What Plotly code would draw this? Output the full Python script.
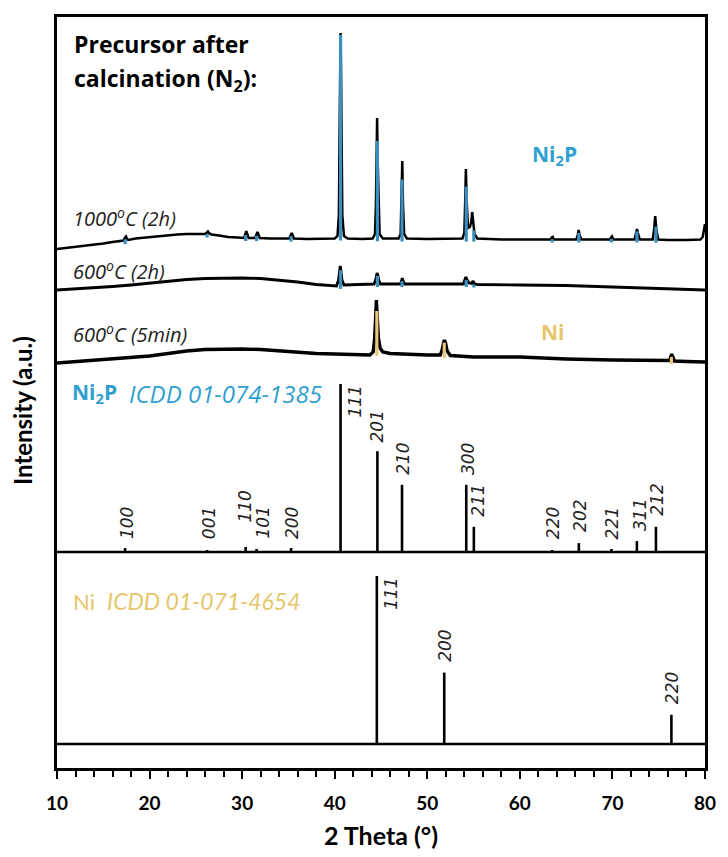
import numpy as np
import plotly.graph_objects as go

# ---------------- data ----------------
# Measured patterns (2 theta in degrees, intensity in a.u., already stacked)
T1000_X = [10.0, 11.0, 12.0, 13.0, 14.0, 15.0, 16.0, 17.0, 17.2, 17.35, 17.45, 17.55, 17.7, 18.5,
           20.0, 21.0, 22.0, 23.0, 24.0, 25.0, 26.0, 26.2, 26.3, 26.45, 26.7, 27.5, 28.5, 29.5,
           30.2, 30.35, 30.45, 30.55, 30.7, 31.4, 31.55, 31.65, 31.75, 31.9, 33.0, 34.0, 35.1,
           35.25, 35.35, 35.45, 35.6, 37.0, 39.0, 40.0, 40.3, 40.45, 40.52, 40.58, 40.63, 40.68,
           40.74, 40.82, 41.0, 41.4, 43.0, 44.1, 44.35, 44.45, 44.52, 44.58, 44.64, 44.72, 44.85,
           45.2, 46.9, 47.12, 47.22, 47.3, 47.38, 47.5, 47.8, 50.0, 53.8, 54.0, 54.1, 54.17, 54.25,
           54.4, 54.6, 54.75, 54.85, 54.95, 55.1, 55.4, 58.0, 61.0, 63.3, 63.45, 63.55, 63.65,
           66.1, 66.25, 66.35, 66.45, 66.65, 69.7, 69.85, 69.95, 70.1, 72.4, 72.55, 72.65, 72.75,
           72.95, 74.35, 74.5, 74.62, 74.75, 74.95, 76.0, 78.0, 79.5, 79.75, 79.9, 80.0]
T1000_Y = [519, 520, 521, 522, 523, 524.5, 526, 527, 527.5, 530.5, 531.5, 529.5, 528, 529.5,
           531, 532, 533, 533.5, 534, 534, 534, 535.5, 536.5, 534.5, 533.5, 532.5, 531, 530.5,
           530, 534, 537, 534, 530, 530, 534, 536, 534, 530, 529.5, 529.5, 529.5,
           533, 535, 533, 529.5, 529, 529, 529.5, 532, 553, 628, 698, 735, 698,
           628, 553, 532, 529.5, 529, 529.5, 534, 563, 608, 650, 608, 563, 534,
           529.5, 529.5, 534, 563, 607, 563, 534, 529.5, 529, 529.5, 535, 568, 599, 568,
           540, 541, 546, 556, 546, 534, 529.5, 528.5, 528.5, 528.5, 530.5, 531, 528.5,
           528.5, 533, 538, 533, 528.5, 528.5, 531, 531.5, 528.5, 528.5, 535, 539, 535,
           528.5, 528.5, 538, 552, 538, 528.5, 528, 528, 528.5, 531, 538, 544]

T600H_X = [10, 12, 14, 16, 18, 20, 22, 24, 26, 28, 30, 32, 34, 36, 38, 40.2, 40.42, 40.52, 40.6,
           40.68, 40.78, 41.0, 42.0, 44.25, 44.42, 44.52, 44.58, 44.65, 44.75, 44.95, 47.1, 47.22,
           47.3, 47.38, 47.55, 53.9, 54.05, 54.17, 54.3, 54.5, 54.8, 54.95, 55.1, 55.4, 60, 65,
           70, 75, 80]
T600H_Y = [478, 479, 480, 481.5, 483, 485, 487, 488.5, 489.5, 490, 490, 489.5, 488, 486, 483.5,
           482, 488, 496, 502, 496, 488, 483, 483.5, 484, 488, 493, 495, 493, 488, 484, 484, 487,
           490, 487, 484, 484, 488, 491, 488, 485, 484.5, 487, 484, 483.5, 483, 482.5, 481,
           479.5, 478]

T600M_X = [10, 12, 14, 16, 18, 20, 22, 24, 26, 28, 30, 32, 34, 36, 38, 40, 42, 43.8, 44.15, 44.3,
           44.42, 44.5, 44.6, 44.72, 44.9, 45.2, 46, 48, 50, 51.4, 51.6, 51.75, 51.85, 51.97,
           52.15, 52.5, 55, 60, 65, 70, 75, 76.15, 76.3, 76.4, 76.52, 76.7, 78, 80]
T600M_Y = [405, 406.5, 408, 409.5, 410.5, 412, 414.5, 417, 418.5, 419, 419, 418.5, 417, 415.5,
           414.5, 414, 413.5, 413, 416, 428, 450, 468, 450, 430, 420, 416, 414.5, 413.5, 413,
           413, 418, 425, 428, 425, 417, 412.5, 411, 411, 409, 408, 407.5, 407.5, 411, 414,
           411, 407, 406.5, 406]

# Reference patterns (relative intensity, %)
NI2P_HKL = ["100", "001", "110", "101", "200", "111", "201", "210", "300", "211",
            "220", "202", "221", "311", "212"]
NI2P_POS = [17.36, 26.22, 30.38, 31.56, 35.29, 40.63, 44.61, 47.27, 54.21, 55.03,
            63.49, 66.37, 69.89, 72.64, 74.70]
NI2P_INT = [2.4, 1.2, 3.0, 1.8, 2.4, 100, 60, 40, 40, 15, 1.2, 5.3, 1.8, 6.5, 15]

NI_HKL = ["111", "200", "220"]
NI_POS = [44.55, 51.83, 76.37]
NI_INT = [100, 42.5, 17.4]

# peaks coloured in each measured pattern
T1000_PEAKS = NI2P_POS
T600H_PEAKS = [40.63, 44.61, 47.27, 54.21, 55.03]
T600M_PEAKS = NI_POS

# ---------------- style ----------------
BLUE = "#2f9fd0"
BLUE_FILL = "#3b8fc0"
GOLD = "#e6c66a"
GOLD_FILL = "#e8c878"
NI2P_BASE = 216
NI_BASE = 24
STICK_SCALE = 1.68
# label offsets in px: (xshift, gap above stick top; None = beside the stick, top-aligned)
NI2P_LBL = {"100": (2, 8), "001": (2, 10), "110": (-1, 23), "101": (6, 9), "200": (1, 8),
            "111": (14, None), "201": (0, 8), "210": (1, 9), "300": (2, 9), "211": (4, 9),
            "220": (1, 10), "202": (1, 10), "221": (1, 9), "311": (3, 9), "212": (1, 10)}
NI_LBL = {"111": (14, None), "200": (0, 10), "220": (0, 10)}

fig = go.Figure()


def peak_marks(xs, ys, peaks, color):
    px, py = [], []
    for p in peaks:
        top = float(np.interp(p, xs, ys))
        base = min(float(np.interp(p - 0.5, xs, ys)), float(np.interp(p + 0.5, xs, ys)))
        px += [p, p, None]
        py += [base - 3, max(top - 2, base), None]
    return go.Scatter(x=px, y=py, mode="lines", line=dict(color=color, width=3.2),
                      hoverinfo="skip", showlegend=False)


for xs, ys, peaks, col, w in [(T1000_X, T1000_Y, T1000_PEAKS, BLUE_FILL, 2.5),
                              (T600H_X, T600H_Y, T600H_PEAKS, BLUE_FILL, 2.9),
                              (T600M_X, T600M_Y, T600M_PEAKS, GOLD_FILL, 3.4)]:
    fig.add_trace(go.Scatter(x=xs, y=ys, mode="lines", line=dict(color="black", width=w),
                             showlegend=False))
    fig.add_trace(peak_marks(xs, ys, peaks, col))


def sticks(pos, inten, base):
    sx, sy = [], []
    for p, v in zip(pos, inten):
        sx += [p, p, None]
        sy += [base, base + v * STICK_SCALE, None]
    return go.Scatter(x=sx, y=sy, mode="lines", line=dict(color="black", width=2.6),
                      showlegend=False)


fig.add_trace(sticks(NI2P_POS, NI2P_INT, NI2P_BASE))
fig.add_trace(sticks(NI_POS, NI_INT, NI_BASE))

lblfont = dict(family="DejaVu Sans", size=17, color="#222222", style="italic")


def stick_labels(hkls, pos, inten, base, offs):
    for h, p, v in zip(hkls, pos, inten):
        xs, gap = offs[h]
        top = base + v * STICK_SCALE
        if gap is None:
            fig.add_annotation(x=p, y=top, text=h, textangle=-90, showarrow=False,
                               xanchor="center", yanchor="top", xshift=xs, yshift=-1,
                               font=lblfont, borderpad=0)
        else:
            fig.add_annotation(x=p, y=top, text=h, textangle=-90, showarrow=False,
                               xanchor="center", yanchor="bottom", xshift=xs, yshift=gap,
                               font=lblfont, borderpad=0)


stick_labels(NI2P_HKL, NI2P_POS, NI2P_INT, NI2P_BASE, NI2P_LBL)
stick_labels(NI_HKL, NI_POS, NI_INT, NI_BASE, NI_LBL)

# panel divider lines
for yv in [NI2P_BASE, NI_BASE]:
    fig.add_shape(type="line", xref="paper", x0=0, x1=1, y0=yv, y1=yv,
                  line=dict(color="black", width=2.6))

# texts
hfont = dict(family="Open Sans", size=23, color="black", weight="bold")
fig.add_annotation(x=11.6, y=724, text="Precursor after", showarrow=False,
                   xanchor="left", yanchor="middle", font=hfont)
fig.add_annotation(x=11.6, y=689, text="calcination (N<sub>2</sub>):", showarrow=False,
                   xanchor="left", yanchor="middle", font=hfont)

tfont = dict(family="Open Sans", size=20, color="#222222", style="italic")
for ty, txt in [(551, "1000<sup>o</sup>C (2h)"), (498, "600<sup>o</sup>C (2h)"),
                (435, "600<sup>o</sup>C (5min)")]:
    fig.add_annotation(x=11.5, y=ty, text=txt, showarrow=False, xanchor="left",
                       yanchor="middle", font=tfont)

fig.add_annotation(x=63.78, y=613, text="Ni<sub>2</sub>P", showarrow=False,
                   font=dict(family="Open Sans", size=21, color=BLUE, weight="bold"))
fig.add_annotation(x=63.57, y=436, text="Ni", showarrow=False,
                   font=dict(family="Open Sans", size=21, color=GOLD, weight="bold"))

fig.add_annotation(x=11.39, y=375, text="Ni<sub>2</sub>P", showarrow=False, xanchor="left",
                   font=dict(family="Open Sans", size=21, color=BLUE, weight="bold"))
fig.add_annotation(x=17.58, y=375, text="ICDD 01-074-1385", showarrow=False, xanchor="left",
                   font=dict(family="Open Sans", size=24, color=BLUE, style="italic"))
fig.add_annotation(x=11.49, y=167, text="Ni", showarrow=False, xanchor="left",
                   font=dict(family="Lato", size=22, color=GOLD))
fig.add_annotation(x=15.23, y=167, text="ICDD 01-071-4654", showarrow=False, xanchor="left",
                   font=dict(family="Lato", size=23, color=GOLD, style="italic"))

fig.add_annotation(xref="paper", yref="paper", x=-0.0534, y=0.476, text="Intensity (a.u.)",
                   textangle=-90, showarrow=False, xanchor="center", yanchor="middle",
                   font=dict(family="Lato", size=24, color="black", weight="bold"))
fig.add_annotation(xref="paper", yref="paper", x=0.5, y=-0.0892, text="2 Theta (°)",
                   showarrow=False, xanchor="center", yanchor="middle",
                   font=dict(family="Lato", size=25, color="black", weight="bold"))

fig.update_layout(
    width=728, height=857,
    margin=dict(l=57, r=14, t=17, b=89),
    plot_bgcolor="white", paper_bgcolor="white",
    xaxis=dict(range=[10, 80], dtick=10, tick0=10, ticks="outside", ticklen=8, tickwidth=2,
               tickcolor="black", showline=True, linecolor="black", linewidth=2.6, mirror=True,
               showgrid=False, zeroline=False, ticklabelstandoff=8,
               tickfont=dict(family="Lato", size=19, color="black", weight="bold"),
               minor=dict(dtick=2, ticks="outside", ticklen=6, tickwidth=2, tickcolor="black",
                          showgrid=False)),
    yaxis=dict(range=[0, 751], showline=True, linecolor="black", linewidth=2.6, mirror=True,
               showgrid=False, zeroline=False, showticklabels=False, ticks=""),
)

# remove the default page margin so the figure fills the 728x857 window exactly
fig.write_html("out.html", config={"displayModeBar": False},
               post_script="document.body.style.margin='0';document.body.style.overflow='hidden';")
